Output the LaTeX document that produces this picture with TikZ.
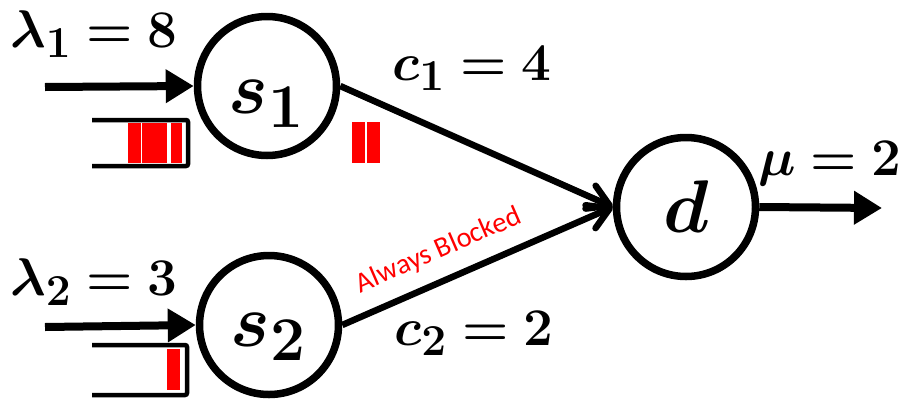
\documentclass[tikz,border=0pt]{standalone}
\usepackage{amsmath}
\usepackage{bm}
\usepackage{graphicx}
\usepackage{fontspec}
\newfontfamily\carlito{Carlito}
\usetikzlibrary{arrows.meta}
\newcommand{\mylabmath}[1]{\scalebox{2.13}{$\bm{#1}$}}
\newcommand{\mynodemath}[2]{\raisebox{#1}[0pt][0pt]{\scalebox{3.0}{$\bm{#2}$}}}
\tikzset{
  circ/.style={circle, draw, line width=7.5pt, minimum size=139pt, inner sep=0pt, font=\Huge},
  lab/.style={inner sep=0pt, anchor=base west, font=\Huge},
  inarrow/.style={line width=8pt, -{Triangle[length=28pt,width=32pt]}},
  edge/.style={line width=6.5pt, -{Straight Barb[length=21pt,width=25pt,round]}},
  qline/.style={line width=4.5pt, rounded corners=2pt},
  redbar/.style={fill=red, draw=none},
  blocked/.style={pos=0.4, sloped, above=14pt, inner sep=0pt, text=red, font=\carlito\fontsize{28.5}{32}\selectfont},
}
\begin{document}
\begin{tikzpicture}[x=1pt,y=-1pt]
\useasboundingbox (0,0) rectangle (907,402);
% servers
\node[circ] (s1) at (267,86) {\mynodemath{-27pt}{s_{1}}};
\node[circ] (s2) at (269,325) {\mynodemath{-21pt}{s_{2}}};
\node[circ] (d) at (686,207) {\mynodemath{-25pt}{d}};
% input arrows
\coordinate (a1) at (45,87);
\coordinate (a2) at (45,327);
\coordinate (out) at (882,208);
\draw[inarrow] (a1) -- (s1.west);
\draw[inarrow] (a2) -- (s2.west);
\draw[inarrow] (d.east) -- (out);
% edges
\draw[edge] (s1.east) -- (d.west);
\draw[edge] (s2.east) -- node[blocked] {Always Blocked} (d.west);
% queues
\draw[qline] (92,120) -- (188,120) -- (188,166) -- (92,166);
\draw[qline] (92,345) -- (187,345) -- (187,395) -- (92,395);
\fill[redbar] (128,123) rectangle (141,163);
\fill[redbar] (142,123) rectangle (167,163);
\fill[redbar] (171,123) rectangle (182,163);
\fill[redbar] (167,349) rectangle (180,390);
\fill[redbar] (352,122) rectangle (365,163);
\fill[redbar] (367,122) rectangle (380,163);
% labels
\node[lab] (l1) at (10,47) {\mylabmath{\lambda_{1} = 8}};
\node[lab] (l2) at (10,295) {\mylabmath{\lambda_{2} = 3}};
\node[lab] (c1) at (392,80) {\mylabmath{c_{1} = 4}};
\node[lab] (c2) at (394,345) {\mylabmath{c_{2} = 2}};
\node[lab] (mu) at (758,175) {\mylabmath{\mu = 2}};
\end{tikzpicture}
\end{document}
